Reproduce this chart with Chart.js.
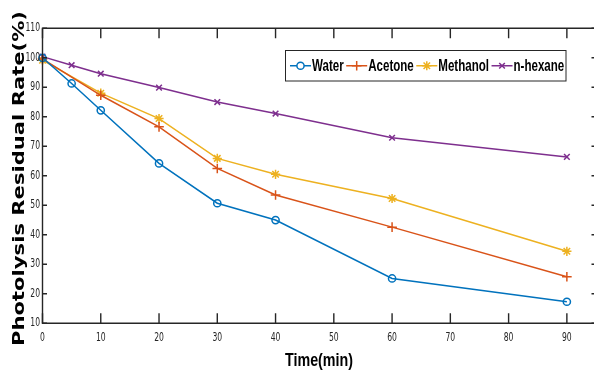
<!DOCTYPE html>
<html><head><meta charset="utf-8">
<script src="https://cdn.jsdelivr.net/npm/chart.js@4/dist/chart.umd.min.js"></script>
<style>html,body{margin:0;padding:0;background:#fff;overflow:hidden;}#wrap{width:594px;height:374px;position:relative;overflow:hidden;}</style>
</head><body><div id="wrap"><canvas id="c" width="597" height="374"></canvas></div>
<script>
const seriesNames = ['Water', 'Acetone', 'Methanol', 'n-hexane'];
const timesWater = [0, 5, 10, 20, 30, 40, 60, 90];
const water = [100, 91.3, 82.2, 64.2, 50.7, 45.0, 25.2, 17.3];
const timesAcetone = [0, 10, 20, 30, 40, 60, 90];
const acetone = [99.6, 87.3, 76.6, 62.5, 53.5, 42.6, 25.8];
const timesMethanol = [0, 10, 20, 30, 40, 60, 90];
const methanol = [99.2, 88.0, 79.4, 65.9, 60.5, 52.3, 34.4];
const timesHexane = [0, 5, 10, 20, 30, 40, 60, 90];
const hexane = [100.4, 97.5, 94.6, 89.9, 85.0, 81.1, 72.9, 66.4];
const xTicks = [0, 10, 20, 30, 40, 50, 60, 70, 80, 90];
const yTicks = [10, 20, 30, 40, 50, 60, 70, 80, 90, 100, 110];
const xTitle = 'Time(min)';
const yTitle = 'Photolysis Residual Rate(%)';

const colors = ['#0072BD', '#D95319', '#EDB120', '#7E2F8E'];
const markers = ['circle', 'cross', 'star', 'crossRot'];
const radii = [3.6, 4.8, 4.6, 4.0];
const axisColor = '#262626';
const narrow = "'Liberation Sans Narrow', 'DejaVu Sans Condensed', 'Liberation Sans', Arial, sans-serif";

function pts(xs, ys) { return xs.map((x, i) => ({ x: x, y: ys[i] })); }
const seriesData = [pts(timesWater, water), pts(timesAcetone, acetone), pts(timesMethanol, methanol), pts(timesHexane, hexane)];

const datasets = seriesData.map((d, i) => ({
  label: seriesNames[i],
  data: d,
  borderColor: colors[i],
  backgroundColor: 'rgba(0,0,0,0)',
  pointBackgroundColor: 'rgba(0,0,0,0)',
  pointBorderColor: colors[i],
  pointStyle: markers[i],
  pointRadius: radii[i],
  pointBorderWidth: 1.5,
  borderWidth: 1.5,
  tension: 0,
  fill: false,
  clip: false
}));

function scaledText(ctx, text, x, y, sx, sy, rot) {
  ctx.save();
  ctx.translate(x, y);
  if (rot) ctx.rotate(rot);
  ctx.scale(sx, sy);
  ctx.fillText(text, 0, 0);
  ctx.restore();
}

const framePlugin = {
  id: 'frame',
  afterDraw(chart) {
    const ctx = chart.ctx;
    const a = chart.chartArea;
    const xs = chart.scales.x, ys = chart.scales.y;
    ctx.save();
    ctx.strokeStyle = axisColor;
    ctx.lineWidth = 1.4;
    ctx.beginPath();
    ctx.rect(a.left, a.top, a.right - a.left, a.bottom - a.top);
    ctx.stroke();
    ctx.beginPath();
    xTicks.forEach(v => {
      const p = xs.getPixelForValue(v);
      ctx.moveTo(p, a.bottom); ctx.lineTo(p, a.bottom - 10);
      ctx.moveTo(p, a.top); ctx.lineTo(p, a.top + 10);
    });
    yTicks.forEach(v => {
      const p = ys.getPixelForValue(v);
      ctx.moveTo(a.left, p); ctx.lineTo(a.left + 4.5, p);
      ctx.moveTo(a.right, p); ctx.lineTo(a.right - 4.5, p);
    });
    ctx.stroke();

    // tick labels, placed with the library's scales
    ctx.fillStyle = axisColor;
    ctx.font = "11.5px " + narrow;
    ctx.textAlign = 'center';
    ctx.textBaseline = 'alphabetic';
    xTicks.forEach(v => {
      scaledText(ctx, String(v), xs.getPixelForValue(v), 340.8, 0.74, 1, 0);
    });
    ctx.textAlign = 'right';
    ctx.textBaseline = 'middle';
    yTicks.forEach(v => {
      scaledText(ctx, String(v), a.left - 2.5, ys.getPixelForValue(v), 0.74, 1, 0);
    });

    // axis titles
    ctx.fillStyle = '#000';
    ctx.font = "bold 18px 'Liberation Sans', Arial, sans-serif";
    ctx.textAlign = 'center';
    ctx.textBaseline = 'alphabetic';
    const wx = ctx.measureText(xTitle).width;
    scaledText(ctx, xTitle, 319, 365.5, 68 / wx, 1, 0);

    ctx.font = "bold 16px 'DejaVu Sans', sans-serif";
    const wy = ctx.measureText(yTitle).width;
    scaledText(ctx, yTitle, 23.5, 178.5, 335 / wy, 1, -Math.PI / 2);

    // legend
    const lx = 285.5, ly = 50.5, lw = 280.5, lh = 30.5;
    ctx.fillStyle = '#fff';
    ctx.fillRect(lx, ly, lw, lh);
    ctx.strokeStyle = axisColor;
    ctx.lineWidth = 1;
    ctx.strokeRect(lx, ly, lw, lh);
    ctx.font = "bold 17px 'Liberation Sans', Arial, sans-serif";
    ctx.textAlign = 'left';
    ctx.textBaseline = 'middle';
    const sx = 0.68;
    const cy = ly + lh / 2;
    let x = lx + 4.5;
    seriesNames.forEach((name, i) => {
      ctx.strokeStyle = colors[i];
      ctx.lineWidth = 1.5;
      ctx.beginPath();
      ctx.moveTo(x, cy); ctx.lineTo(x + 21, cy);
      ctx.stroke();
      Chart.helpers.drawPoint(ctx, {
        pointStyle: markers[i], radius: radii[i], rotation: 0, borderWidth: 1.5
      }, x + 10.5, cy);
      ctx.fillStyle = '#000';
      const tx = x + 22;
      scaledText(ctx, name, tx, cy + 1, sx, 1, 0);
      x = tx + ctx.measureText(name).width * sx + 2.5;
    });
    ctx.restore();
  }
};

new Chart(document.getElementById('c'), {
  type: 'line',
  data: { datasets: datasets },
  options: {
    responsive: false,
    devicePixelRatio: 1,
    animation: false,
    layout: { autoPadding: false, padding: { top: 28.3, right: 1, bottom: 0, left: 0 } },
    plugins: { legend: { display: false }, tooltip: { enabled: false } },
    scales: {
      x: {
        type: 'linear', min: 0, max: 95,
        afterBuildTicks: s => { s.ticks = xTicks.map(v => ({ value: v })); },
        afterFit: s => { s.height = 50.7; s.paddingLeft = 0; s.paddingRight = 0; },
        grid: { display: false, drawTicks: false },
        border: { display: false },
        ticks: { display: false }
      },
      y: {
        type: 'linear', min: 10, max: 110,
        afterBuildTicks: s => { s.ticks = yTicks.map(v => ({ value: v })); },
        afterFit: s => { s.width = 42.5; s.paddingTop = 0; s.paddingBottom = 0; },
        grid: { display: false, drawTicks: false },
        border: { display: false },
        ticks: { display: false }
      }
    }
  },
  plugins: [framePlugin]
});
</script>
</body></html>
